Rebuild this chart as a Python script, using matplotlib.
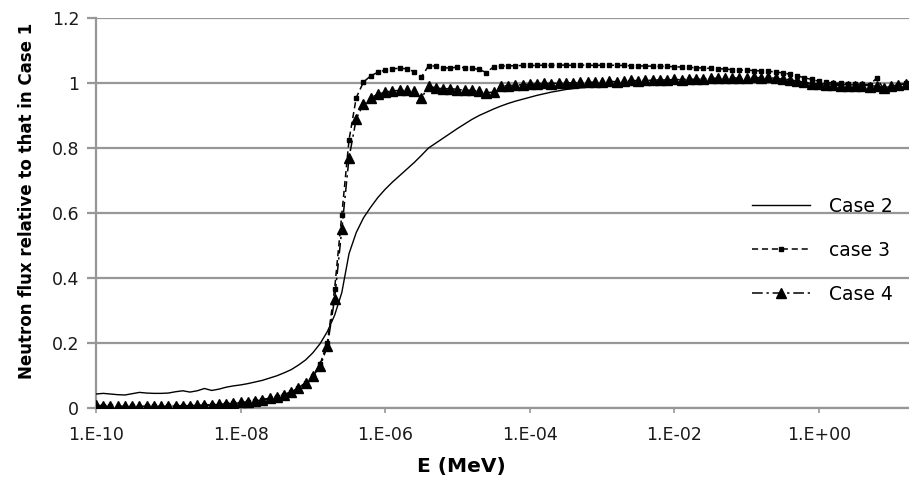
import numpy as np
import matplotlib
matplotlib.use("Agg")
import matplotlib.pyplot as plt

# Energy group grid (MeV): ten groups per decade from 1e-10 to 20 MeV
energy_mev = np.logspace(-10.0, 1.3, 114)

# Flux ratios relative to Case 1, one value per energy group
case2 = [
    0.043, 0.045, 0.043, 0.041, 0.040, 0.044, 0.048, 0.046, 0.045, 0.045,
    0.046, 0.050, 0.053, 0.049, 0.053, 0.060, 0.054, 0.058, 0.064, 0.068,
    0.071, 0.075, 0.080, 0.085, 0.092, 0.099, 0.108, 0.118, 0.132, 0.148,
    0.170, 0.198, 0.235, 0.285, 0.355, 0.475, 0.540, 0.585, 0.618, 0.648,
    0.673, 0.695, 0.715, 0.735, 0.755, 0.777, 0.800, 0.815, 0.830, 0.845,
    0.860, 0.874, 0.888, 0.900, 0.910, 0.920, 0.929, 0.937, 0.944, 0.950,
    0.956, 0.962, 0.967, 0.972, 0.976, 0.980, 0.983, 0.985, 0.987, 0.989,
    0.990, 0.992, 0.993, 0.994, 0.995, 0.996, 0.997, 0.998, 0.999, 0.999,
    1.000, 1.001, 1.001, 1.002, 1.002, 1.003, 1.003, 1.004, 1.004, 1.005,
    1.005, 1.006, 1.006, 1.006, 1.005, 1.004, 1.003, 1.001, 1.000, 0.999,
    0.998, 0.997, 0.996, 0.995, 0.995, 0.994, 0.993, 0.992, 0.990, 0.985,
    0.990, 0.995, 0.998, 1.000,
]

case3 = [
    0.006, 0.005, 0.005, 0.004, 0.004, 0.005, 0.004, 0.005, 0.005, 0.004,
    0.005, 0.005, 0.006, 0.006, 0.007, 0.008, 0.009, 0.010, 0.012, 0.014,
    0.016, 0.018, 0.021, 0.025, 0.029, 0.034, 0.040, 0.049, 0.061, 0.077,
    0.097, 0.135, 0.200, 0.365, 0.595, 0.825, 0.955, 1.003, 1.022, 1.033,
    1.040, 1.044, 1.045, 1.044, 1.035, 1.018, 1.053, 1.052, 1.047, 1.046,
    1.049, 1.047, 1.045, 1.042, 1.032, 1.050, 1.052, 1.053, 1.053, 1.054,
    1.054, 1.054, 1.055, 1.054, 1.055, 1.055, 1.054, 1.055, 1.055, 1.054,
    1.055, 1.055, 1.054, 1.054, 1.053, 1.053, 1.052, 1.052, 1.051, 1.051,
    1.050, 1.049, 1.048, 1.047, 1.046, 1.045, 1.044, 1.043, 1.041, 1.040,
    1.040, 1.038, 1.037, 1.036, 1.034, 1.031, 1.027, 1.022, 1.016, 1.011,
    1.005, 1.002, 1.000, 0.999, 0.998, 0.997, 0.996, 0.995, 1.015, 0.980,
    0.985, 0.995, 1.000, 1.004,
]

case4 = [
    0.008, 0.007, 0.006, 0.006, 0.005, 0.006, 0.005, 0.006, 0.006, 0.005,
    0.006, 0.006, 0.007, 0.007, 0.008, 0.009, 0.010, 0.011, 0.013, 0.015,
    0.017, 0.019, 0.022, 0.026, 0.030, 0.035, 0.041, 0.050, 0.062, 0.078,
    0.098, 0.128, 0.190, 0.335, 0.550, 0.770, 0.890, 0.935, 0.955, 0.965,
    0.972, 0.976, 0.977, 0.977, 0.975, 0.953, 0.990, 0.985, 0.982, 0.983,
    0.980, 0.978, 0.978, 0.974, 0.970, 0.972, 0.990, 0.992, 0.993, 0.995,
    0.996, 0.997, 0.999, 0.998, 1.000, 1.001, 1.000, 1.002, 1.003, 1.002,
    1.004, 1.005, 1.004, 1.006, 1.008, 1.007, 1.009, 1.008, 1.010, 1.009,
    1.011, 1.010, 1.012, 1.011, 1.013, 1.014, 1.015, 1.014, 1.016, 1.015,
    1.016, 1.017, 1.016, 1.017, 1.014, 1.012, 1.010, 1.006, 1.002, 0.998,
    0.996, 0.994, 0.993, 0.992, 0.991, 0.990, 0.990, 0.988, 0.990, 0.985,
    0.990, 0.994, 0.998, 1.001,
]

series_labels = ["Case 2", "case 3", "Case 4"]
x_ticks = [1e-10, 1e-8, 1e-6, 1e-4, 1e-2, 1e0]
x_tick_labels = ["1.E-10", "1.E-08", "1.E-06", "1.E-04", "1.E-02", "1.E+00"]
y_ticks = [0, 0.2, 0.4, 0.6, 0.8, 1.0, 1.2]
y_tick_labels = ["0", "0.2", "0.4", "0.6", "0.8", "1", "1.2"]

GRID_GREY = "#979797"
plt.rcParams["font.family"] = ["DejaVu Sans"]

fig = plt.figure(figsize=(9.09, 4.82), dpi=100)
ax = fig.add_axes([96 / 909, 1 - 408 / 482, (913 - 96) / 909, (408 - 18) / 482])

ax.plot(energy_mev, case2, color="black", lw=1.0, label=series_labels[0], zorder=3)
ax.plot(energy_mev, case3, color="black", lw=1.1, linestyle=(0, (4, 2.5)),
        marker="s", markersize=3.3, label=series_labels[1], zorder=4)
ax.plot(energy_mev, case4, color="black", lw=1.1, linestyle=(0, (7, 2.5, 1.5, 2.5)),
        marker="^", markersize=6.5, label=series_labels[2], zorder=5)

ax.set_xscale("log")
ax.set_xlim(1e-10, 20)
ax.set_ylim(0, 1.2)
ax.set_xticks(x_ticks)
ax.set_xticklabels(x_tick_labels)
ax.xaxis.set_minor_locator(matplotlib.ticker.NullLocator())
ax.set_yticks(y_ticks)
ax.set_yticklabels(y_tick_labels)

ax.yaxis.grid(True, color=GRID_GREY, lw=1.6)
ax.set_axisbelow(True)
for side in ("top", "right"):
    ax.spines[side].set_visible(False)
for side in ("left", "bottom"):
    ax.spines[side].set_color(GRID_GREY)
    ax.spines[side].set_linewidth(1.6)

ax.tick_params(axis="x", direction="out", length=3.6, width=1.2, color=GRID_GREY,
               pad=9.5, labelsize=12.5, labelcolor="#1a1a1a")
ax.tick_params(axis="y", direction="out", length=6.5, width=1.6, color=GRID_GREY,
               pad=5.5, labelsize=12.5, labelcolor="#1a1a1a")

ax.set_xlabel("E (MeV)", fontsize=14.5, fontweight="bold")
ax.xaxis.set_label_coords(0.447, -0.125)
ax.set_ylabel("Neutron flux relative to that in Case 1", fontsize=12,
              fontweight="bold")
ax.yaxis.set_label_coords(-0.073, 0.531)

ax.legend(loc="upper left", bbox_to_anchor=(752 / 909, 1 - 197 / 482),
          bbox_transform=fig.transFigure, frameon=False, fontsize=13.5,
          handlelength=3.1, handletextpad=1.0, labelspacing=1.32,
          numpoints=1, borderpad=0, borderaxespad=0)

fig.savefig("out.png", dpi=100)
